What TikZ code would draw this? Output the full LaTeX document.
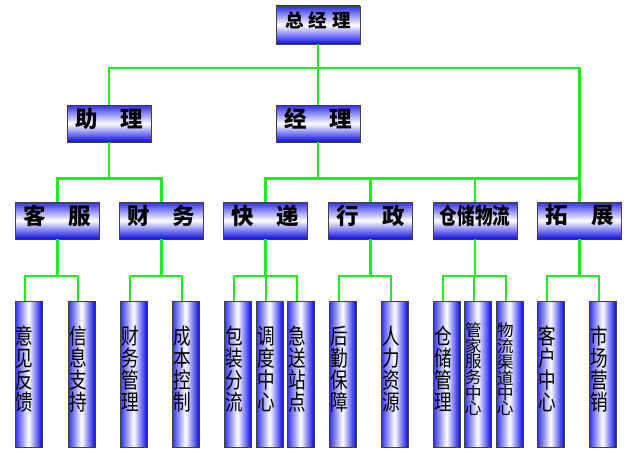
\documentclass[tikz,border=0pt]{standalone}
\usepackage{fontspec}
\usepackage{tikz}
\usetikzlibrary{calc}
\usetikzlibrary{positioning}
\newfontfamily\cjk{Noto Sans CJK SC}
\newfontfamily\cjknarrow[FakeStretch=0.8]{Noto Sans CJK SC}
\definecolor{linegreen}{RGB}{25, 240, 25}
\definecolor{boxblue}{RGB}{45, 45, 235}
\definecolor{boxdeep}{RGB}{10, 10, 235}

\tikzset{
  line/.style={draw=linegreen, line width=2.8pt},
  rankbox/.style={draw=black!75, line width=0.8pt, top color=boxblue, bottom color=boxdeep,
                  middle color=white, minimum width=84pt, minimum height=37pt, inner sep=0pt},
  rankname/.style={yshift=5pt, inner sep=0pt, font={\cjk\bfseries\fontsize{22.5}{24}\selectfont}},
  unitbox/.style={draw=black!75, line width=0.8pt, left color=boxblue, right color=boxdeep,
                  middle color=white, minimum width=27pt, minimum height=146pt, inner sep=0pt},
  unitname/.style={yshift=5pt, inner sep=0pt, text width=25pt, align=left,
                   font={\cjknarrow\fontsize{22}{22}\selectfont}},
  longname/.style={yshift=5pt, inner sep=0pt, text width=25pt, align=left,
                   font={\cjk\fontsize{16.5}{15}\selectfont}},
}

\begin{document}
\begin{tikzpicture}[x=1pt, y=1pt]
            \useasboundingbox (0,0) rectangle (628,459);
            % Head
            \node[rankbox, minimum height=38pt, label={[rankname, font={\cjk\bfseries\fontsize{18.5}{20}\selectfont}]center:\makebox[66pt]{总\hfill 经\hfill 理}}] (zjl) at (318,434) {};
            % Second rank
            \node[rankbox, label={[rankname]center:\makebox[68pt]{助\hfill 理}}] (zl) at (109,335.5) {};
            \node[rankbox, label={[rankname]center:\makebox[68pt]{经\hfill 理}}] (jl) at (318,335.5) {};
            % Departments
            \node[rankbox, label={[rankname]center:\makebox[68pt]{客\hfill 服}}] (kf) at (57.5,238.5) {};
            \node[rankbox, label={[rankname]center:\makebox[68pt]{财\hfill 务}}] (cw) at (161.5,238.5) {};
            \node[rankbox, label={[rankname]center:\makebox[68pt]{快\hfill 递}}] (kd) at (265.5,238.5) {};
            \node[rankbox, label={[rankname]center:\makebox[68pt]{行\hfill 政}}] (xz) at (370.5,238.5) {};
            \node[rankbox, label={[rankname]center:\scalebox{0.78}[1]{仓储物流}}] (ccwl) at (475,238.5) {};
            \node[rankbox, label={[rankname]center:\makebox[68pt]{拓\hfill 展}}] (tz) at (579.5,238.5) {};
            % Units
            \foreach \n/\x/\t in {yjfk/28.5/{意\\见\\反\\馈}, xxzc/81.5/{信\\息\\支\\持},
                                  cwgl/133.5/{财\\务\\管\\理}, cbkz/185.5/{成\\本\\控\\制},
                                  bzfl/237.5/{包\\装\\分\\流}, ddzx/269.5/{调\\度\\中\\心},
                                  jszd/300.5/{急\\送\\站\\点}, hqbz/342.5/{后\\勤\\保\\障},
                                  rlzy/394.5/{人\\力\\资\\源}, ccgl/446.5/{仓\\储\\管\\理},
                                  khzx/550.5/{客\\户\\中\\心}, scyx/602.5/{市\\场\\营\\销}}
                \node[unitbox, label={[unitname]center:\t}] (\n) at (\x,85) {};
            \node[unitbox, label={[longname]center:管\\家\\服\\务\\中\\心}] (gjfw) at (477.5,85) {};
            \node[unitbox, label={[longname]center:物\\流\\渠\\道\\中\\心}] (wlqd) at (509.5,85) {};
            % Bus lines
            \coordinate (bus1) at (0,391);
            \coordinate (bus2) at (0,280.5);
            \coordinate (bus3) at (0,183);
            % Head to second rank
            \draw[line] (zjl.south) -- (jl.north);
            \draw[line] (zl.north) |- (bus1 -| tz.north) -- (tz.north);
            % Second rank to departments
            \draw[line] (zl.south) -- (zl.south |- bus2);
            \draw[line] (kf.north) |- (bus2 -| cw.north) -- (cw.north);
            \draw[line] (jl.south) -- (jl.south |- bus2);
            \draw[line] (kd.north) |- (bus2 -| tz.north) -- (tz.north);
            \draw[line] (xz.north) -- (xz.north |- bus2);
            \draw[line] (ccwl.north) -- (ccwl.north |- bus2);
            % Departments to units
            \foreach \p/\a/\b in {kf/yjfk/xxzc, cw/cwgl/cbkz, kd/bzfl/jszd, xz/hqbz/rlzy, ccwl/ccgl/wlqd, tz/khzx/scyx} {
                \draw[line] (\p.south) -- (\p.south |- bus3);
                \draw[line] ([xshift=-3.5pt]\a.north) |- ([xshift=-3.5pt]bus3 -| \b.north) -- ([xshift=-3.5pt]\b.north);
            }
            \draw[line] ([xshift=-3.5pt]ddzx.north) -- ([xshift=-3.5pt]bus3 -| ddzx.north);
            \draw[line] ([xshift=-3.5pt]gjfw.north) -- ([xshift=-3.5pt]bus3 -| gjfw.north);
        \end{tikzpicture}
\end{document}
